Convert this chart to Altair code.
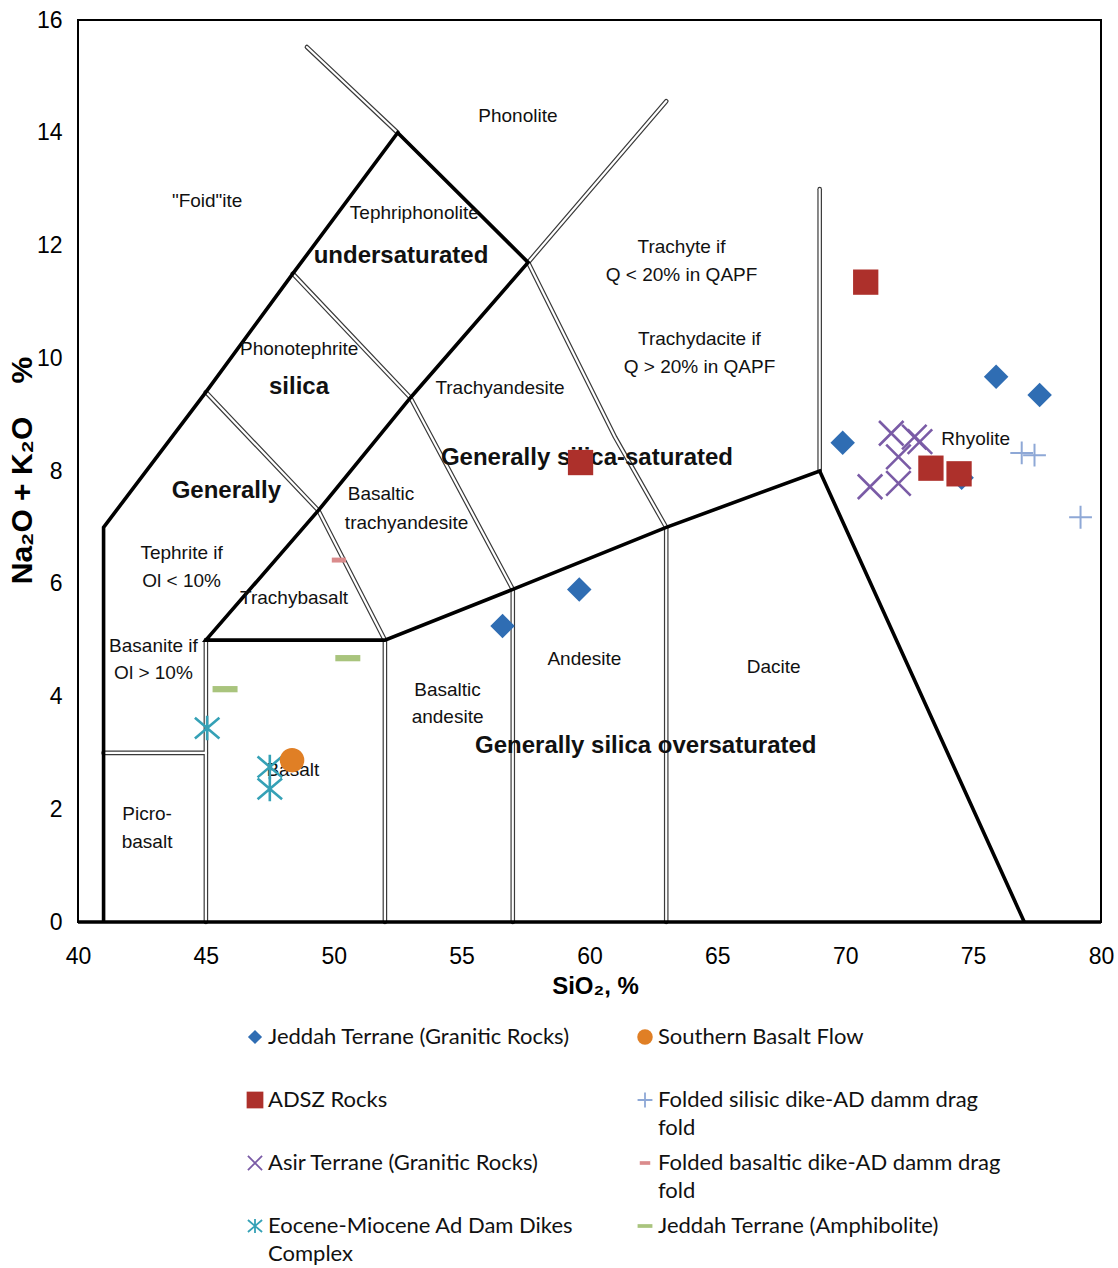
import altair as alt
import pandas as pd

# ---------------------------------------------------------------------------
# Sample analyses: SiO2 (wt%) and total alkalis Na2O + K2O (wt%)
# ---------------------------------------------------------------------------
jeddah_granitic_sio2 = [56.6, 59.6, 69.9, 75.9, 77.6, 74.55]
jeddah_granitic_alk = [5.25, 5.9, 8.5, 9.67, 9.35, 7.88]

adsz_sio2 = [70.8, 59.65, 73.35, 74.45]
adsz_alk = [11.35, 8.15, 8.05, 7.95]

asir_sio2 = [71.8, 72.7, 72.92, 72.08, 70.97, 72.08]
asir_alk = [8.67, 8.6, 8.52, 8.25, 7.72, 7.78]

eocene_sio2 = [45.05, 47.5, 47.5]
eocene_alk = [3.44, 2.75, 2.36]

southern_basalt_sio2 = [48.37]
southern_basalt_alk = [2.87]

silisic_dike_sio2 = [76.9, 77.4, 79.2]
silisic_dike_alk = [8.32, 8.28, 7.18]

basaltic_dike_sio2 = [50.2]
basaltic_dike_alk = [6.42]

amphibolite_sio2 = [45.75, 50.55]
amphibolite_alk = [4.13, 4.68]

series_names = [
    "Jeddah Terrane (Granitic Rocks)",
    "ADSZ Rocks",
    "Asir Terrane (Granitic Rocks)",
    "Eocene-Miocene Ad Dam Dikes Complex",
    "Southern Basalt Flow",
    "Folded silisic dike-AD damm drag fold",
    "Folded basaltic dike-AD damm drag fold",
    "Jeddah Terrane (Amphibolite)",
]
series_values = [
    (jeddah_granitic_sio2, jeddah_granitic_alk),
    (adsz_sio2, adsz_alk),
    (asir_sio2, asir_alk),
    (eocene_sio2, eocene_alk),
    (southern_basalt_sio2, southern_basalt_alk),
    (silisic_dike_sio2, silisic_dike_alk),
    (basaltic_dike_sio2, basaltic_dike_alk),
    (amphibolite_sio2, amphibolite_alk),
]

# legend text, wrapped as in the key, and its (column, row) slot
legend_lines = [
    ["Jeddah Terrane (Granitic Rocks)"],
    ["ADSZ Rocks"],
    ["Asir Terrane (Granitic Rocks)"],
    ["Eocene-Miocene Ad Dam Dikes", "Complex"],
    ["Southern Basalt Flow"],
    ["Folded silisic dike-AD damm drag", "fold"],
    ["Folded basaltic dike-AD damm drag", "fold"],
    ["Jeddah Terrane (Amphibolite)"],
]
legend_col = [0, 0, 0, 0, 1, 1, 1, 1]
legend_row = [0, 1, 2, 3, 0, 1, 2, 3]

# ---------------------------------------------------------------------------
# TAS field boundaries (Le Bas et al., 1986)
# ---------------------------------------------------------------------------
bold_boundaries = [
    [(41, 0), (41, 7), (45, 9.4), (48.4, 11.5), (52.5, 14), (57.6, 11.7),
     (53, 9.3), (49.4, 7.3), (45, 5), (52, 5), (57, 5.9), (63, 7), (69, 8), (77, 0)],
    [(40, 0), (80, 0)],
]
double_boundaries = [
    [(45, 0), (45, 5)],
    [(41, 3), (45, 3)],
    [(52, 0), (52, 5)],
    [(57, 0), (57, 5.9)],
    [(63, 0), (63, 7)],
    [(69, 8), (69, 13)],
    [(45, 9.4), (49.4, 7.3), (52, 5)],
    [(48.4, 11.5), (53, 9.3), (57, 5.9)],
    [(52.5, 14), (48.95, 15.52)],
    [(57.6, 11.7), (63, 14.56)],
    [(57.6, 11.7), (61, 8.6), (63, 7)],
]

field_names = [
    ("Phonolite", 57.2, 14.3),
    ('"Foid"ite', 45.05, 12.79),
    ("Tephriphonolite", 53.15, 12.58),
    ("Trachyte if", 63.6, 11.97),
    ("Q < 20% in QAPF", 63.6, 11.48),
    ("Trachydacite if", 64.3, 10.34),
    ("Q > 20% in QAPF", 64.3, 9.84),
    ("Phonotephrite", 48.65, 10.16),
    ("Trachyandesite", 56.5, 9.47),
    ("Rhyolite", 75.1, 8.57),
    ("Basaltic", 51.85, 7.59),
    ("trachyandesite", 52.85, 7.08),
    ("Tephrite if", 44.05, 6.55),
    ("Ol < 10%", 44.05, 6.05),
    ("Trachybasalt", 48.45, 5.75),
    ("Basanite if", 42.95, 4.9),
    ("Ol > 10%", 42.95, 4.42),
    ("Andesite", 59.8, 4.67),
    ("Dacite", 67.2, 4.52),
    ("Basaltic", 54.45, 4.12),
    ("andesite", 54.45, 3.64),
    ("Basalt", 48.4, 2.7),
    ("Picro-", 42.7, 1.92),
    ("basalt", 42.7, 1.42),
]
saturation_names = [
    ("undersaturated", 52.63, 11.81),
    ("silica", 48.64, 9.49),
    ("Generally silica-saturated", 59.9, 8.23),
    ("Generally", 45.8, 7.65),
    ("Generally silica oversaturated", 62.2, 3.12),
]

# ---------------------------------------------------------------------------
# Styling
# ---------------------------------------------------------------------------
SANS = "Liberation Sans, Arial, sans-serif"
KEY_FONT = "Lato, Open Sans, sans-serif"
NBSP = "\u00a0"

X_PATH = "M-1,-1L1,1M-1,1L1,-1"
PLUS_PATH = "M-1,0L1,0M0,-1L0,1"
STAR_PATH = "M-1,-0.85L1,0.85M-1,0.85L1,-0.85M0,-1L0,1"
DASH_PATH = "M-1,-0.25L1,-0.25L1,0.25L-1,0.25Z"
SHORT_DASH_PATH = "M-1,-0.35L1,-0.35L1,0.35L-1,0.35Z"

marker_styles = [
    dict(color="#2f6db3", shape="diamond", size=600, key_size=200, filled=True, sw=0),
    dict(color="#ad302b", shape="square", size=640, key_size=280, filled=True, sw=0),
    dict(color="#7a5ba6", shape=X_PATH, size=600, key_size=200, filled=False, sw=2.6),
    dict(color="#35a1b6", shape=STAR_PATH, size=600, key_size=200, filled=False, sw=2.6),
    dict(color="#e07f25", shape="circle", size=600, key_size=240, filled=True, sw=0),
    dict(color="#8ea8d6", shape=PLUS_PATH, size=520, key_size=220, filled=False, sw=2),
    dict(color="#da8b8c", shape=SHORT_DASH_PATH, size=200, key_size=110, filled=True, sw=0),
    dict(color="#a9c47d", shape=DASH_PATH, size=625, key_size=220, filled=True, sw=0),
]

W, H = 1023, 902

x_axis = alt.Axis(
    values=list(range(40, 81, 5)), title="SiO₂, %", grid=False, ticks=False,
    domain=False, labelFont=SANS, labelFontSize=23, labelColor="black",
    labelPadding=23, labelFlush=False, labelOverlap=False,
    titleFont=SANS, titleFontSize=24, titleFontWeight="bold", titleColor="black",
    titleX=517, titleY=64, titleBaseline="middle", titleAlign="center",
)
y_axis = alt.Axis(
    values=list(range(0, 17, 2)),
    title=f"Na₂O{NBSP}+{NBSP}K₂O{NBSP * 4}%",
    grid=False, ticks=False,
    domain=False, labelFont=SANS, labelFontSize=23, labelColor="black",
    labelPadding=16, labelFlush=False, labelOverlap=False,
    titleFont=SANS, titleFontSize=30, titleFontWeight="bold", titleColor="black",
    titleX=-56, titleY=450, titleAngle=-90, titleBaseline="middle", titleAlign="center",
)
x_enc = alt.X("x:Q", scale=alt.Scale(domain=[40, 80], nice=False, zero=False), axis=x_axis)
y_enc = alt.Y("y:Q", scale=alt.Scale(domain=[0, 16], nice=False, zero=False), axis=y_axis)


def polyline_frame(lines):
    rows = []
    for i, pts in enumerate(lines):
        for j, (px, py) in enumerate(pts):
            rows.append({"seg": i, "ord": j, "x": px, "y": py})
    return pd.DataFrame(rows)


bold_df = polyline_frame(bold_boundaries)
double_df = polyline_frame(double_boundaries)

double_outer = alt.Chart(double_df).mark_line(
    color="#3a3a3a", strokeWidth=4.6, strokeCap="round", strokeJoin="round"
).encode(x=x_enc, y=y_enc, detail="seg:N", order="ord:Q")
double_inner = alt.Chart(double_df).mark_line(
    color="white", strokeWidth=2.2, strokeCap="round", strokeJoin="round"
).encode(x=x_enc, y=y_enc, detail="seg:N", order="ord:Q")
bold_lines = alt.Chart(bold_df).mark_line(
    color="black", strokeWidth=3.6, strokeJoin="miter"
).encode(x=x_enc, y=y_enc, detail="seg:N", order="ord:Q")

names_df = pd.DataFrame(field_names, columns=["label", "x", "y"])
field_text = alt.Chart(names_df).mark_text(
    font=SANS, fontSize=19, color="#111111", baseline="middle"
).encode(x=x_enc, y=y_enc, text="label:N")

sat_df = pd.DataFrame(saturation_names, columns=["label", "x", "y"])
sat_text = alt.Chart(sat_df).mark_text(
    font=SANS, fontSize=24, fontWeight="bold", color="#111111", baseline="middle"
).encode(x=x_enc, y=y_enc, text="label:N")

point_rows = []
for name, (sx, sy) in zip(series_names, series_values):
    for a, b in zip(sx, sy):
        point_rows.append({"series": name, "x": a, "y": b})
points_df = pd.DataFrame(point_rows)

point_layers = []
for name, st in zip(series_names, marker_styles):
    mark_kw = dict(shape=st["shape"], size=st["size"], filled=st["filled"],
                   color=st["color"], opacity=1)
    if not st["filled"]:
        mark_kw["strokeWidth"] = st["sw"]
    point_layers.append(
        alt.Chart(points_df)
        .transform_filter(alt.datum.series == name)
        .mark_point(**mark_kw)
        .encode(x=x_enc, y=y_enc)
    )

diagram = alt.layer(double_outer, double_inner, bold_lines, field_text, sat_text,
                    *point_layers)

# ---------------------------------------------------------------------------
# Key below the diagram (two columns)
# ---------------------------------------------------------------------------
key_marker_rows, key_text_rows = [], []
for name, lines, c, r in zip(series_names, legend_lines, legend_col, legend_row):
    key_marker_rows.append({"series": name, "kc": c, "kr": r})
    for k, line in enumerate(lines):
        key_text_rows.append({"label": line, "kc": c, "kr": r + 0.445 * k})
key_marker_df = pd.DataFrame(key_marker_rows)
key_text_df = pd.DataFrame(key_text_rows)

kx = alt.X("kc:Q", scale=alt.Scale(domain=[0, 1], range=[177, 567], nice=False, zero=False), axis=None)
ky = alt.Y("kr:Q", scale=alt.Scale(domain=[0, 3], range=[1017, 1206], nice=False, zero=False), axis=None)

key_layers = [
    alt.Chart(key_text_df).mark_text(
        font=KEY_FONT, fontSize=22, color="#111111", align="left", baseline="middle", dx=13
    ).encode(x=kx, y=ky, text="label:N")
]
for name, st in zip(series_names, marker_styles):
    mark_kw = dict(shape=st["shape"], size=st["key_size"], filled=st["filled"],
                   color=st["color"], opacity=1)
    if not st["filled"]:
        mark_kw["strokeWidth"] = 1.8
    key_layers.append(
        alt.Chart(key_marker_df)
        .transform_filter(alt.datum.series == name)
        .mark_point(**mark_kw)
        .encode(x=kx, y=ky)
    )
key = alt.layer(*key_layers)

chart = (
    alt.layer(diagram, key)
    .resolve_scale(x="independent", y="independent")
    .properties(
        width=W, height=H,
        autosize=alt.AutoSizeParams(type="none"),
        padding={"left": 78, "top": 20, "right": 17, "bottom": 346},
        background="white",
    )
    .configure_view(stroke="black", strokeWidth=2)
)

chart.save("out.html", embed_options={"renderer": "svg", "actions": False})
